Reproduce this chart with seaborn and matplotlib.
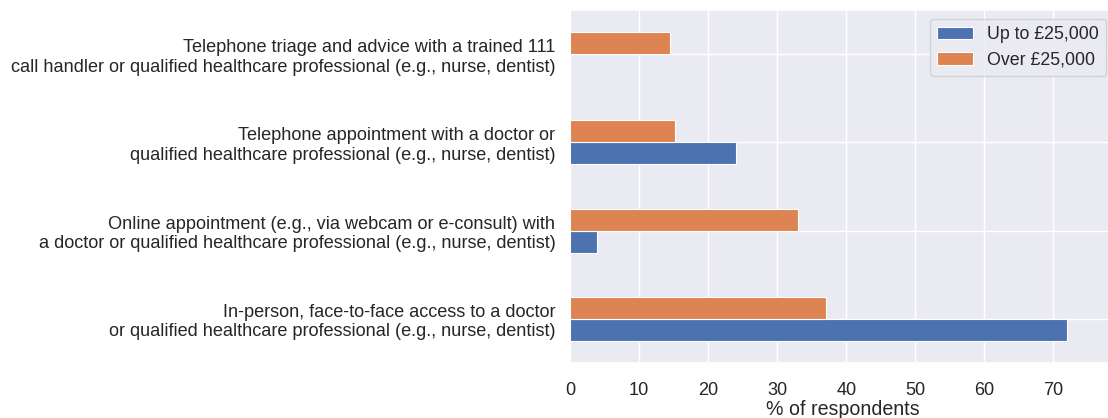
import matplotlib
matplotlib.use("Agg")
import matplotlib.pyplot as plt
import numpy as np
import pandas as pd
import seaborn as sns

# Access options, listed from the bottom of the chart upwards
options = [
    "In-person, face-to-face access to a doctor\nor qualified healthcare professional (e.g., nurse, dentist)",
    "Online appointment (e.g., via webcam or e-consult) with\na doctor or qualified healthcare professional (e.g., nurse, dentist)",
    "Telephone appointment with a doctor or\nqualified healthcare professional (e.g., nurse, dentist)",
    "Telephone triage and advice with a trained 111\ncall handler or qualified healthcare professional (e.g., nurse, dentist)",
]
income_groups = ["Up to £25,000", "Over £25,000"]
up_to_25k = [72.0, 3.9, 24.0, 0.0]
over_25k = [37.1, 33.0, 15.2, 14.5]

df = pd.DataFrame({
    "option": options * 2,
    "income": [income_groups[0]] * len(options) + [income_groups[1]] * len(options),
    "pct": up_to_25k + over_25k,
})

sns.set_theme(style="darkgrid", context="notebook")
plt.rcParams["font.family"] = ["Liberation Sans", "DejaVu Sans"]

TICK_FS = 13.05
LABEL_FS = 14.1
LEGEND_FS = 12.8
fig = plt.figure(figsize=(11.08, 4.18), dpi=100)
W, H = 1108, 418
ax = fig.add_axes([570 / W, 1 - 363 / H, (1115 - 570) / W, (363 - 10) / H])

sns.barplot(
    data=df, x="pct", y="option", hue="income", order=options,
    hue_order=income_groups, palette=["#4C72B0", "#DD8452"], saturation=1,
    orient="h", width=0.5, ax=ax, linewidth=0.8, edgecolor="white",
)

# Put the first option at the bottom and the first income group below the second
ax.set_ylim(-0.5, len(options) - 0.5)
ax.set_xlim(0, (1115 - 570) / 6.905)
ax.set_xticks(np.arange(0, 80, 10))
ax.yaxis.grid(True)
ax.xaxis.grid(True)
ax.set_axisbelow(True)
ax.set_ylabel("")
ax.set_xlabel("% of respondents", fontsize=LABEL_FS, labelpad=1)
ax.tick_params(axis="y", labelsize=TICK_FS, pad=4.5)
ax.tick_params(axis="x", labelsize=TICK_FS, pad=7.5)

handles, labels = ax.get_legend_handles_labels()
ax.legend(handles, labels, loc="upper right", fontsize=LEGEND_FS, title=None)

fig.savefig("out.png", dpi=100)
